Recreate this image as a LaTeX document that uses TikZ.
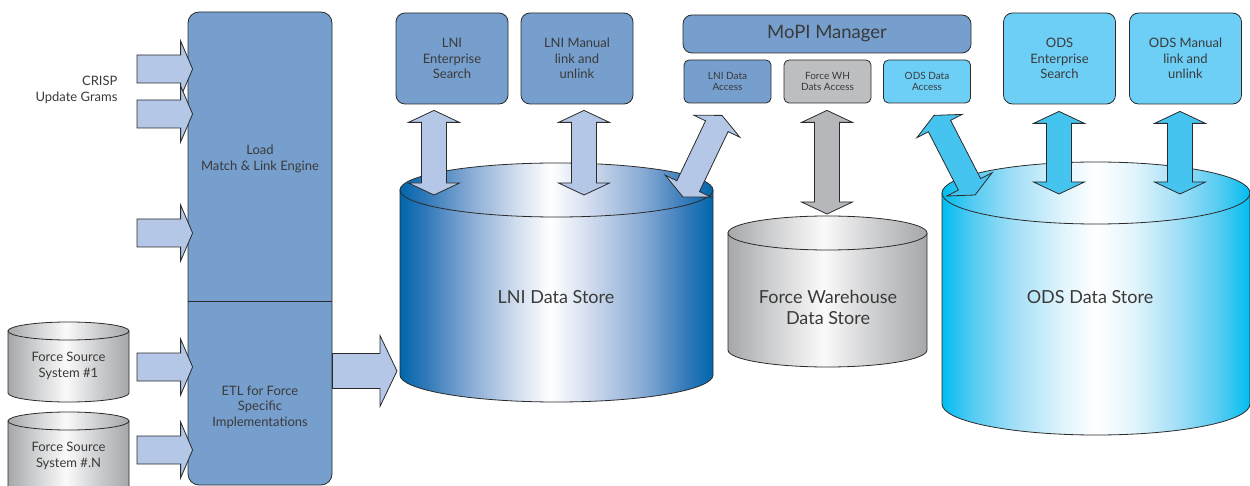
\documentclass[tikz,border=0pt]{standalone}
\usepackage{fontspec}
\setmainfont{Lato}
\usetikzlibrary{calc}

\definecolor{boxblue}{HTML}{769FCD}
\definecolor{arrowblue}{HTML}{B4C7E7}
\definecolor{odsbox}{HTML}{6DCFF6}
\definecolor{odsarrow}{HTML}{45C4F0}
\definecolor{whbox}{HTML}{BCBEC0}
\definecolor{wharrow}{HTML}{B5B7BA}
\definecolor{edge}{HTML}{2B2B2B}
\definecolor{txt}{HTML}{3A3A3A}

\pgfdeclarehorizontalshading{lnishade}{100bp}{%
  color(0bp)=(rgb,255:red,0;green,103;blue,172);
  color(25bp)=(rgb,255:red,0;green,103;blue,172);
  color(29bp)=(rgb,255:red,47;green,120;blue,184);
  color(36bp)=(rgb,255:red,134;green,169;blue,212);
  color(44bp)=(rgb,255:red,213;green,224;blue,239);
  color(49bp)=(rgb,255:red,255;green,255;blue,255);
  color(56bp)=(rgb,255:red,203;green,216;blue,236);
  color(64bp)=(rgb,255:red,134;green,169;blue,212);
  color(71bp)=(rgb,255:red,47;green,120;blue,184);
  color(75bp)=(rgb,255:red,0;green,103;blue,172);
  color(100bp)=(rgb,255:red,0;green,103;blue,172)}
\pgfdeclarehorizontalshading{odsshade}{100bp}{%
  color(0bp)=(rgb,255:red,0;green,189;blue,240);
  color(25bp)=(rgb,255:red,0;green,189;blue,240);
  color(30bp)=(rgb,255:red,85;green,203;blue,242);
  color(37bp)=(rgb,255:red,165;green,224;blue,247);
  color(45bp)=(rgb,255:red,227;green,245;blue,252);
  color(50bp)=(rgb,255:red,255;green,255;blue,255);
  color(56bp)=(rgb,255:red,227;green,245;blue,252);
  color(63bp)=(rgb,255:red,165;green,224;blue,247);
  color(70bp)=(rgb,255:red,85;green,203;blue,242);
  color(75bp)=(rgb,255:red,0;green,189;blue,240);
  color(100bp)=(rgb,255:red,0;green,189;blue,240)}
\pgfdeclarehorizontalshading{whshade}{100bp}{%
  color(0bp)=(rgb,255:red,165;green,167;blue,170);
  color(25bp)=(rgb,255:red,165;green,167;blue,170);
  color(37bp)=(rgb,255:red,210;green,211;blue,212);
  color(49bp)=(rgb,255:red,250;green,250;blue,250);
  color(62bp)=(rgb,255:red,205;green,206;blue,208);
  color(75bp)=(rgb,255:red,165;green,167;blue,170);
  color(100bp)=(rgb,255:red,165;green,167;blue,170)}

% name, centre x, top y, bottom y, half width, ry, shading
\newcommand\datastore[7]{%
  \shade[draw=edge, line width=0.8pt, shading=#7]
    ({#2-#5},#3) -- ({#2-#5},#4)
    arc[start angle=180, end angle=360, x radius=#5pt, y radius=#6pt]
    -- ({#2+#5},#3) -- cycle;
  \shade[draw=edge, line width=0.8pt, shading=#7]
    (#2,#3) ellipse[x radius=#5pt, y radius=#6pt];
  \coordinate (#1top) at (#2,#3);
}

% from, to, shaft half width, head half width, head length
\newcommand\blockarrow[6][]{%
  \draw[blockarrow,#1] ($(#2)!#4!90:(#3)$)
    -- ($(#3)!#6!(#2)!#4!-90:(#2)$)
    -- ($(#3)!#6!(#2)!#5!-90:(#2)$)
    -- (#3)
    -- ($(#3)!#6!(#2)!#5!90:(#2)$)
    -- ($(#3)!#6!(#2)!#4!90:(#2)$)
    -- ($(#2)!#4!-90:(#3)$) -- cycle;
}

\newcommand\dblarrow[3][]{%
  \draw[blockarrow,#1] (#2)
    -- ($(#2)!12pt!(#3)!25.5pt!90:(#3)$)
    -- ($(#2)!12pt!(#3)!12.5pt!90:(#3)$)
    -- ($(#3)!12pt!(#2)!12.5pt!-90:(#2)$)
    -- ($(#3)!12pt!(#2)!25.5pt!-90:(#2)$)
    -- (#3)
    -- ($(#3)!12pt!(#2)!25.5pt!90:(#2)$)
    -- ($(#3)!12pt!(#2)!12.5pt!90:(#2)$)
    -- ($(#2)!12pt!(#3)!12.5pt!-90:(#3)$)
    -- ($(#2)!12pt!(#3)!25.5pt!-90:(#3)$)
    -- cycle;
}

\begin{document}
\begin{tikzpicture}[
    x = 1pt,
    y = -1pt,
    every node/.style = {text=txt, font=\fontsize{13}{15.5}\selectfont, align=center},
    panel/.style = {rectangle, rounded corners=9pt, draw=edge, fill=boxblue, line width=0.8pt,
              inner sep=0pt, minimum width=112pt, minimum height=91pt},
    access/.style = {panel, rounded corners=5pt, minimum width=87pt, minimum height=43pt,
              font=\fontsize{10}{10.5}\selectfont},
    storetext/.style = {font=\fontsize{18}{21}\selectfont},
    blockarrow/.style = {draw=edge, fill=arrowblue, line width=0.8pt},
    ]

\useasboundingbox (0,0) rectangle (1250,486);

\node[panel, minimum width=144pt, minimum height=473pt, rounded corners=11pt] (engine) at (260,248.5){};
\coordinate (split) at (0,301);
\draw[edge, line width=0.8pt] (engine.west |- split) -- (engine.east |- split);
\node (load) at (260,159) {Load\\Match \& Link Engine};
\node (etl) at (260,407) {ETL for Force\\Specific\\Implementations};
\node[anchor=east, align=right] (crisp) at (121,90) {CRISP\\Update Grams};

\datastore{fsa}{68.5}{331}{393}{60.5}{9}{whshade}
\node (fsatext) at (68.5,366) {Force Source\\System \#1};
\datastore{fsn}{68.5}{421}{492}{60.5}{9}{whshade}
\node (fsntext) at (68.5,456) {Force Source\\System \#.N};

\datastore{lni}{556.5}{190}{375}{156.5}{27}{lnishade}
\node[storetext] (lnistore) at (556,297) {LNI Data Store};
\datastore{fw}{827.5}{233}{350}{99.5}{17}{whshade}
\node[storetext] (fwstore) at (828,307.5) {Force Warehouse\\Data Store};
\datastore{ods}{1096}{193}{404}{154}{31}{odsshade}
\node[storetext] (odsstore) at (1090,297) {ODS Data Store};

\node[panel] (lnies) at (452,58.5) {LNI\\Enterprise\\Search};
\node[panel] (lniman) at (577,58.5) {LNI Manual\\link and\\unlink};
\node[panel, minimum width=288pt, minimum height=38pt, font=\fontsize{18.5}{20}\selectfont] (mopi) at (827,34) {MoPI Manager};
\node[access] (lnida) at (727.5,81.5) {LNI Data\\Access};
\node[access, fill=whbox] (fwda) at (827.5,81.5) {Force WH\\Dats Access};
\node[access, fill=odsbox] (odsda) at (927,81.5) {ODS Data\\Access};
\node[panel, fill=odsbox] (odses) at (1059.5,58.5) {ODS\\Enterprise\\Search};
\node[panel, fill=odsbox] (odsman) at (1185.5,58.5) {ODS Manual\\link and\\unlink};

\foreach \y [count=\i] in {69,114,233,367,450} {
  \coordinate (in\i) at (137,\y);
  \coordinate (tip\i) at ($(engine.west |- in\i)+(5,0)$);
  \blockarrow{in\i}{tip\i}{14pt}{28pt}{12pt}
}

\coordinate (etlout) at ($(engine.east)+(0,122.5)$);
\coordinate (lniin) at (397,371);
\blockarrow{etlout}{lniin}{17.5pt}{35.5pt}{17pt}

\coordinate (lnies-a) at ($(lnies.south)+(-18,6)$);
\coordinate (lnies-b) at ($(lnitop)+(-122.5,5)$);
\coordinate (lniman-a) at ($(lniman.south)+(7,6)$);
\coordinate (lniman-b) at ($(lnitop)+(27.5,5)$);
\coordinate (lnida-a) at ($(lnida.south)+(-5.5,12)$);
\coordinate (lnida-b) at ($(lnitop)+(126.5,7)$);
\coordinate (fwda-a) at ($(fwda.south)+(-0.5,7)$);
\coordinate (fwda-b) at ($(fwtop)+(-0.5,-19)$);
\coordinate (odsda-a) at ($(odsda.south)+(7,12)$);
\coordinate (odsda-b) at ($(odstop)+(-121,2)$);
\coordinate (odses-a) at ($(odses.south)+(-0.5,7)$);
\coordinate (odses-b) at ($(odstop)+(-37,1)$);
\coordinate (odsman-a) at ($(odsman.south)+(-5.5,7)$);
\coordinate (odsman-b) at ($(odstop)+(84,1)$);

\dblarrow{lnies-a}{lnies-b}
\dblarrow{lniman-a}{lniman-b}
\dblarrow{lnida-a}{lnida-b}
\dblarrow[fill=wharrow]{fwda-a}{fwda-b}
\dblarrow[fill=odsarrow]{odsda-a}{odsda-b}
\dblarrow[fill=odsarrow]{odses-a}{odses-b}
\dblarrow[fill=odsarrow]{odsman-a}{odsman-b}

\end{tikzpicture}
\end{document}
